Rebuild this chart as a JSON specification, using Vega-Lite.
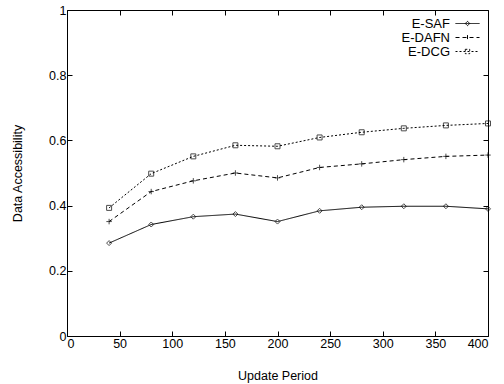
{
  "$schema": "https://vega.github.io/schema/vega-lite/v6.json",
  "width": 421,
  "height": 326,
  "autosize": "none",
  "padding": {"left": 67, "top": 10, "right": 16, "bottom": 48},
  "background": "white",
  "config": {
    "font": "Liberation Sans",
    "view": {"stroke": "black", "strokeWidth": 1},
    "axis": {
      "grid": false,
      "domain": false,
      "tickColor": "black",
      "tickSize": -5,
      "labelColor": "black",
      "labelFontSize": 12.5,
      "labelFont": "Liberation Sans",
      "titleFont": "Liberation Sans",
      "titleFontSize": 12.5,
      "titleFontWeight": "normal",
      "titleColor": "black"
    },
    "legend": {
      "labelFont": "Liberation Sans",
      "labelFontSize": 13,
      "labelColor": "black"
    }
  },
  "data": {
    "values": [
      {"period": 40, "series": "E-SAF", "acc": 0.285},
      {"period": 80, "series": "E-SAF", "acc": 0.342},
      {"period": 120, "series": "E-SAF", "acc": 0.366},
      {"period": 160, "series": "E-SAF", "acc": 0.374},
      {"period": 200, "series": "E-SAF", "acc": 0.351},
      {"period": 240, "series": "E-SAF", "acc": 0.384},
      {"period": 280, "series": "E-SAF", "acc": 0.395},
      {"period": 320, "series": "E-SAF", "acc": 0.398},
      {"period": 360, "series": "E-SAF", "acc": 0.398},
      {"period": 400, "series": "E-SAF", "acc": 0.39},
      {"period": 40, "series": "E-DAFN", "acc": 0.351},
      {"period": 80, "series": "E-DAFN", "acc": 0.443},
      {"period": 120, "series": "E-DAFN", "acc": 0.476},
      {"period": 160, "series": "E-DAFN", "acc": 0.5},
      {"period": 200, "series": "E-DAFN", "acc": 0.485},
      {"period": 240, "series": "E-DAFN", "acc": 0.517},
      {"period": 280, "series": "E-DAFN", "acc": 0.528},
      {"period": 320, "series": "E-DAFN", "acc": 0.541},
      {"period": 360, "series": "E-DAFN", "acc": 0.551},
      {"period": 400, "series": "E-DAFN", "acc": 0.555},
      {"period": 40, "series": "E-DCG", "acc": 0.393},
      {"period": 80, "series": "E-DCG", "acc": 0.498},
      {"period": 120, "series": "E-DCG", "acc": 0.551},
      {"period": 160, "series": "E-DCG", "acc": 0.585},
      {"period": 200, "series": "E-DCG", "acc": 0.582},
      {"period": 240, "series": "E-DCG", "acc": 0.609},
      {"period": 280, "series": "E-DCG", "acc": 0.625},
      {"period": 320, "series": "E-DCG", "acc": 0.637},
      {"period": 360, "series": "E-DCG", "acc": 0.646},
      {"period": 400, "series": "E-DCG", "acc": 0.652}
    ]
  },
  "encoding": {
    "x": {"field": "period", "type": "quantitative", "scale": {"domain": [0, 400], "nice": false}},
    "y": {"field": "acc", "type": "quantitative", "scale": {"domain": [0, 1], "nice": false}}
  },
  "layer": [
    {
      "mark": {"type": "line", "color": "black", "strokeWidth": 1},
      "encoding": {
        "x": {"field": "period", "type": "quantitative", "axis": {"orient": "bottom", "values": [0,50,100,150,200,250,300,350,400], "format": "d", "title": "Update Period", "labelPadding": 6, "titlePadding": 20}},
        "y": {"field": "acc", "type": "quantitative", "axis": {"orient": "left", "values": [0,0.2,0.4,0.6,0.8,1], "format": "~g", "title": "Data Accessibility", "labelPadding": 6, "titlePadding": 24}},
        "strokeDash": {
          "field": "series",
          "type": "nominal",
          "sort": ["E-SAF", "E-DAFN", "E-DCG"],
          "scale": {"domain": ["E-SAF", "E-DAFN", "E-DCG"], "range": [[1, 0], [4, 3], [2, 2]]},
          "legend": {
            "title": null,
            "orient": "none",
            "legendX": 394,
            "legendY": 7,
            "symbolSize": 64,
            "symbolStrokeWidth": 1,
            "symbolStrokeColor": "black",
            "labelAlign": "right",
            "labelOffset": -24,
            "rowPadding": 0,
            "encode": {
              "symbols": {
                "update": {
                  "shape": {"signal": "datum.value === 'E-SAF' ? 'M-3,0H3M0,-0.55L0.55,0L0,0.55L-0.55,0Z' : datum.value === 'E-DAFN' ? 'M-3,0H3M0,-0.6V0.6' : 'M-3,0H3M-0.55,-0.55H0.55V0.55H-0.55Z'"},
                  "stroke": {"value": "black"},
                  "fill": {"value": "transparent"}
                }
              }
            }
          }
        }
      }
    },
    {
      "transform": [{"filter": "datum.series === 'E-SAF'"}],
      "mark": {"type": "point", "shape": "diamond", "color": "black", "filled": false, "strokeWidth": 1, "size": 25},
      "encoding": {
        "x": {"field": "period", "type": "quantitative", "axis": {"orient": "top", "values": [0,50,100,150,200,250,300,350,400], "labels": false, "title": null}},
        "y": {"field": "acc", "type": "quantitative", "axis": {"orient": "right", "values": [0,0.2,0.4,0.6,0.8,1], "labels": false, "title": null}}
      }
    },
    {
      "transform": [{"filter": "datum.series === 'E-DAFN'"}],
      "mark": {"type": "point", "shape": "M-1,0H1M0,-1V1", "color": "black", "filled": false, "strokeWidth": 1, "size": 30},
      "encoding": {
        "x": {"field": "period", "type": "quantitative", "axis": null},
        "y": {"field": "acc", "type": "quantitative", "axis": null}
      }
    },
    {
      "transform": [{"filter": "datum.series === 'E-DCG'"}],
      "mark": {"type": "point", "shape": "square", "color": "black", "filled": false, "strokeWidth": 1, "size": 25},
      "encoding": {
        "x": {"field": "period", "type": "quantitative", "axis": null},
        "y": {"field": "acc", "type": "quantitative", "axis": null}
      }
    }
  ],
  "resolve": {"axis": {"x": "independent", "y": "independent"}}
}
